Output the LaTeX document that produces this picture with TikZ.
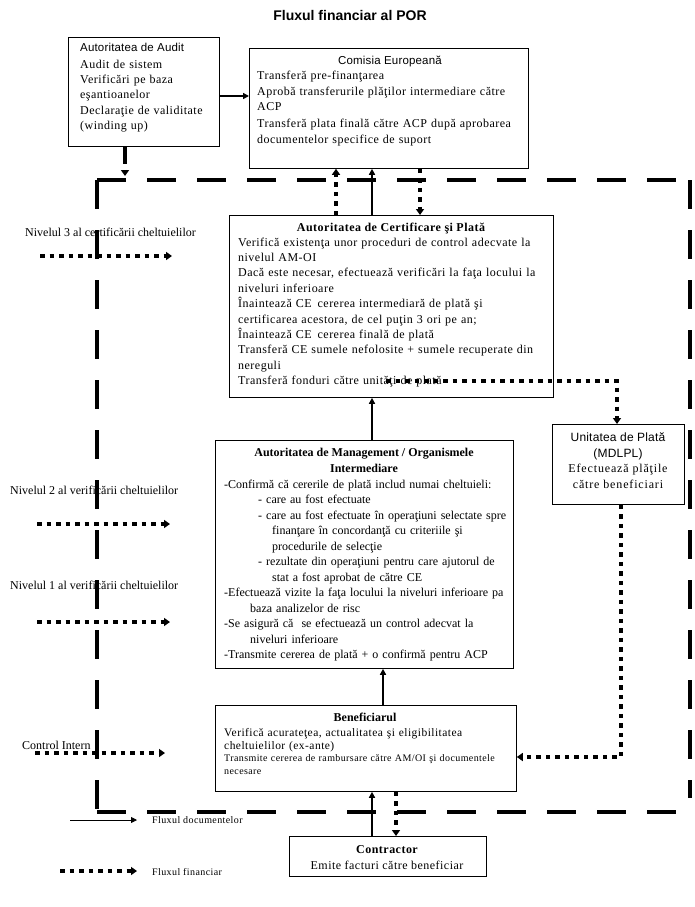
\documentclass[tikz,border=0pt]{standalone}
\usepackage{fontspec}
\setmainfont{Liberation Serif}[LetterSpace=4]
\newfontfamily\plainf{Liberation Serif}
\newfontfamily\widef{Liberation Serif}[LetterSpace=7]
\newfontfamily\sansf{Liberation Sans}[LetterSpace=1.5]
\newfontfamily\sansb{Liberation Sans}
\usetikzlibrary{arrows.meta}
\begin{document}
\begin{tikzpicture}[x=1pt,y=-1pt,
  box/.style={draw, line width=0.8pt, inner sep=0pt, anchor=north west},
  txt/.style={anchor=base west, inner sep=0pt, text width=440pt, align=left, font=\fontsize{12}{15.6}\selectfont},
  ttl/.style={anchor=base, inner sep=0pt, font=\bfseries\fontsize{12}{15.4}\selectfont, align=center},
  sttl/.style={anchor=base, inner sep=0pt, font=\sansf\fontsize{11.5}{15.6}\selectfont, align=center},
  lbl/.style={anchor=base west, inner sep=0pt, font=\plainf\fontsize{12}{12}\selectfont},
  doc/.style={line width=1.6pt, -{Triangle[length=6pt,width=6pt]}},
  fin/.style={line width=3.5pt, dash pattern=on 4.5pt off 5pt, -{Triangle[length=6pt,width=8pt]}},
  border/.style={line width=4pt, dash pattern=on 29pt off 21pt}
]
\useasboundingbox (0,0) rectangle (695,907);
% title
\node[anchor=base, inner sep=0pt, font=\sansb\bfseries\fontsize{14}{16}\selectfont] (title) at (350,21) {Fluxul financiar al POR};
% big dashed border
\coordinate (btl) at (97,180); \coordinate (btr) at (690,180);
\coordinate (bbl) at (97,812); \coordinate (bbr) at (695,812);
\coordinate (brb) at (690,798);
\draw[border] (btl) -- (btr);
\draw[border] (btr) -- (brb);
\draw[border] (btl) -- (bbl);
\draw[border] (bbl) -- (bbr);
% boxes
\node[box, minimum width=151pt, minimum height=109pt] (aud) at (68,37) {};
\node[box, minimum width=279pt, minimum height=120pt] (ce) at (249,48) {};
\node[box, minimum width=324pt, minimum height=182pt] (acp) at (229,215) {};
\node[box, minimum width=132pt, minimum height=80pt] (up) at (552,424) {};
\node[box, minimum width=298pt, minimum height=228pt] (am) at (215,440) {};
\node[box, minimum width=301pt, minimum height=86pt] (ben) at (215,705) {};
\node[box, minimum width=197pt, minimum height=40pt] (con) at (289,836) {};
% audit text
\node[lbl, font=\sansf\fontsize{11.5}{12}\selectfont] (audh) at (80,52) {Autoritatea de Audit};
\node[txt, font=\fontsize{12}{15.4}\selectfont] (audt) at (80,68) {Audit de sistem\\Verificări pe baza\\eşantioanelor\\Declaraţie de validitate\\(winding up)};
% CE text
\node[sttl] (ceh) at (390,64) {Comisia Europeană};
\node[txt, font=\fontsize{12}{16}\selectfont] (cet) at (257,79) {Transferă pre-finanţarea\\Aprobă transferurile plăţilor intermediare către\\ACP\\Transferă plata finală către ACP după aprobarea\\documentelor specifice de suport};
% ACP text
\node[ttl] (acph) at (391,231) {Autoritatea de Certificare şi Plată};
\node[txt, font=\fontsize{12}{15.4}\selectfont] (acpt) at (238,246) {Verifică existenţa unor proceduri de control adecvate la\\nivelul AM-OI\\Dacă este necesar, efectuează verificări la faţa locului la\\niveluri inferioare\\Înaintează CE\, cererea intermediară de plată şi\\certificarea acestora, de cel puţin 3 ori pe an;\\Înaintează CE\, cererea finală de plată\\Transferă CE sumele nefolosite + sumele recuperate din\\nereguli\\Transferă fonduri către unităţi de plată};
% UP text
\node[sttl, font=\sansf\fontsize{12}{16}\selectfont] (uph) at (618,457) {Unitatea de Plată\\(MDLPL)};
\node[anchor=base, inner sep=0pt, align=center, font=\widef\fontsize{12}{15.4}\selectfont] (upt) at (618,488) {Efectuează plăţile\\către beneficiari};
% AM text
\node[ttl, font=\plainf\bfseries\fontsize{12}{15.4}\selectfont] (amh) at (364,472) {Autoritatea de Management / Organismele\\Intermediare};
\node[txt, font=\plainf\fontsize{12}{15.5}\selectfont] (amt) at (224,488) {-Confirmă că cererile de plată includ numai cheltuieli:\\
\hspace*{34pt}- care au fost efectuate\\
\hspace*{34pt}- care au fost efectuate în operaţiuni selectate spre\\
\hspace*{48pt}finanţare în concordanţă cu criteriile şi\\
\hspace*{48pt}procedurile de selecţie\\
\hspace*{34pt}- rezultate din operaţiuni pentru care ajutorul de\\
\hspace*{48pt}stat a fost aprobat de către CE\\
-Efectuează vizite la faţa locului la niveluri inferioare pa\\
\hspace*{26pt}baza analizelor de risc\\
-Se asigură că\ \ se efectuează un control adecvat la\\
\hspace*{26pt}niveluri inferioare\\
-Transmite cererea de plată + o confirmă pentru ACP};
% Beneficiarul text
\node[ttl, font=\plainf\bfseries\fontsize{12}{15.4}\selectfont] (benh) at (365,721) {Beneficiarul};
\node[txt, font=\fontsize{11.5}{13}\selectfont] (bent) at (224,736) {Verifică acurateţea, actualitatea şi eligibilitatea\\cheltuielilor (ex-ante)};
\node[txt, font=\fontsize{10}{13}\selectfont] (bent2) at (224,761) {Transmite cererea de rambursare către AM/OI şi documentele\\necesare};
% Contractor text
\node[ttl] (conh) at (387,853) {Contractor};
\node[anchor=base, inner sep=0pt, font=\fontsize{12}{14}\selectfont] (cont) at (387,869) {Emite facturi către beneficiar};
% left labels
\node[lbl] (n3) at (25,236) {Nivelul 3 al certificării cheltuielilor};
\node[lbl] (n2) at (10,494) {Nivelul 2 al verificării cheltuielilor};
\node[lbl] (n1) at (10,589) {Nivelul 1 al verificării cheltuielilor};
\node[lbl] (ci) at (22,749) {Control Intern};
\coordinate (n3s) at (40,256); \coordinate (n3e) at (172,256);
\coordinate (n2s) at (37,524); \coordinate (n2e) at (170,524);
\coordinate (n1s) at (37,622); \coordinate (n1e) at (170,622);
\coordinate (cis) at (35,753); \coordinate (cie) at (165,753);
\draw[fin] (n3s) -- (n3e);
\draw[fin] (n2s) -- (n2e);
\draw[fin] (n1s) -- (n1e);
\draw[fin] (cis) -- (cie);
% legend
\coordinate (lg1s) at (70,820); \coordinate (lg1e) at (137,820);
\coordinate (lg2s) at (60,871); \coordinate (lg2e) at (137,871);
\draw[doc, line width=0.8pt] (lg1s) -- (lg1e);
\draw[fin] (lg2s) -- (lg2e);
\node[lbl, font=\fontsize{10}{11}\selectfont] (lg1) at (152,823) {Fluxul documentelor};
\node[lbl, font=\fontsize{10}{11}\selectfont] (lg2) at (152,875) {Fluxul financiar};
% connectors
\coordinate (auddown) at (125,176);
\coordinate (acpout) at (386,381);
\draw[doc] (aud.east |- 0,96) -- (ce.west |- 0,96);
\draw[fin, dash pattern=on 17pt off 6pt] (125,0 |- aud.south) -- (auddown);
\draw[fin] (336,0 |- acp.north) -- (336,0 |- ce.south);
\draw[doc] (372,0 |- acp.north) -- (372,0 |- ce.south);
\draw[fin] (420,0 |- ce.south) -- (420,0 |- acp.north);
\draw[fin] (acpout) -- (617,381) -- (617,0 |- up.north);
\draw[doc, line width=2.6pt] (372,0 |- am.north) -- (372,0 |- acp.south);
\draw[doc, line width=2.2pt] (383,0 |- ben.north) -- (383,0 |- am.south);
\draw[doc, line width=2.2pt] (372,0 |- con.north) -- (372,0 |- ben.south);
\draw[fin] (396,0 |- ben.south) -- (396,0 |- con.north);
\draw[fin] (621,0 |- up.south) -- (621,757) -- (ben.east |- 0,757);
\end{tikzpicture}
\end{document}
